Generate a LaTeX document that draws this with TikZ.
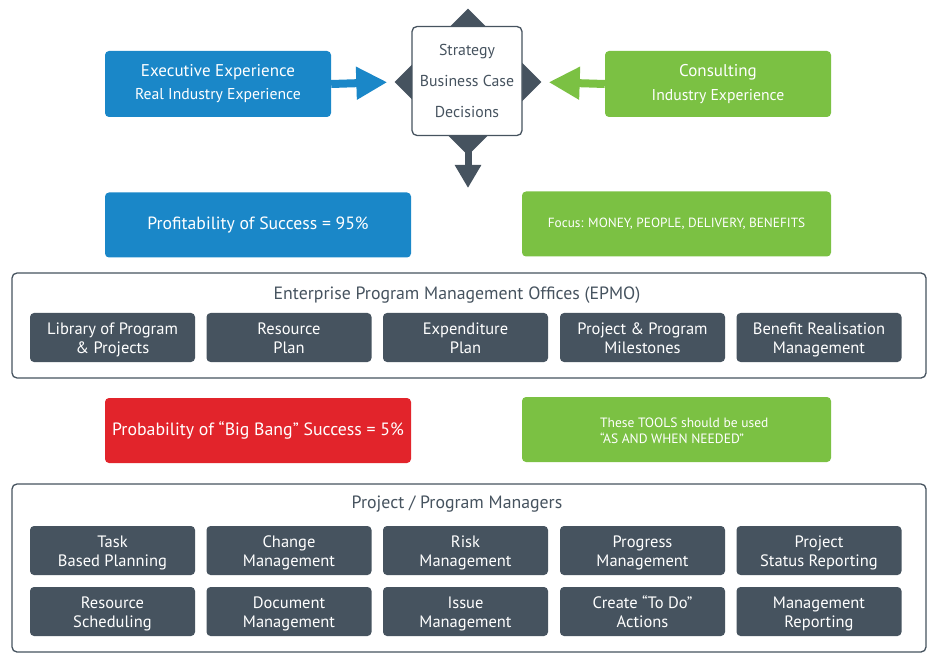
\documentclass[tikz,border=0pt]{standalone}
\usepackage{fontspec}
\setmainfont{PT Sans}
\usetikzlibrary{shapes.geometric,arrows.meta}
\definecolor{cblue}{HTML}{1A87C8}
\definecolor{cgreen}{HTML}{7BC143}
\definecolor{cdark}{HTML}{46535F}
\definecolor{cred}{HTML}{E2242B}
\tikzset{
  cbox/.style={rounded corners=4pt, inner sep=0pt, align=center, text=white},
  tool/.style={cbox, fill=cdark, minimum width=165pt, minimum height=49pt,
    font=\fontsize{16.5}{19.5}\selectfont, text height=36pt, text depth=4pt},
  frame/.style={draw=cdark, line width=1.3pt, rounded corners=5pt, fill=white},
  fat/.style={line width=8pt, -{Triangle[length=31pt,width=31pt]}},
}
\begin{document}
\begin{tikzpicture}[x=1pt,y=-1pt]
\useasboundingbox (0,0) rectangle (937,660);
% top row
\node[cbox, fill=cblue, minimum width=226pt, minimum height=66pt] (exec) at (218,84)
  {\fontsize{17}{20}\selectfont Executive Experience\\[7.5pt] \fontsize{15.7}{19}\selectfont Real Industry Experience};
\node[cbox, fill=cgreen, minimum width=226pt, minimum height=66pt] (cons) at (718,84)
  {\fontsize{17}{20}\selectfont Consulting\\[7.5pt] \fontsize{15.7}{19}\selectfont Industry Experience};
\node[diamond, fill=cdark, minimum width=147pt, minimum height=147pt, inner sep=0pt] (dia) at (468,82) {};
\coordinate (downtip) at (468,188);
\draw[cdark, line width=7pt, -{Triangle[length=23pt,width=25pt]}] (dia.center) -- (downtip);
\node[frame, minimum width=110pt, minimum height=109pt, inner sep=0pt, align=center,
  text=cdark, font=\fontsize{15.8}{31}\selectfont] (strat) at (467,81)
  {Strategy\\Business Case\\Decisions};
\draw[cblue, fat, shorten >=7pt] (exec.east) -- (dia.west);
\draw[cgreen, fat, shorten >=7pt] (cons.west) -- (dia.east);
% second row
\node[cbox, fill=cblue, minimum width=306pt, minimum height=65pt,
  font=\fontsize{17.7}{21}\selectfont] (prof) at (258,225) {Profitability of Success = 95\%};
\node[cbox, fill=cgreen, minimum width=309pt, minimum height=65pt,
  font=\fontsize{13.3}{16}\selectfont] (focus) at (676.5,224) {Focus: MONEY, PEOPLE, DELIVERY, BENEFITS};
% EPMO
\node[frame, minimum width=914pt, minimum height=105pt, inner sep=0pt] (epmo) at (469,325.5) {};
\node[text=cdark, font=\fontsize{17.8}{21}\selectfont] (epmot) at (457,295) {Enterprise Program Management Offices (EPMO)};
\node[tool] (e1) at (112.5,337.5) {Library of Program\\\& Projects};
\node[tool] (e2) at (289,337.5) {Resource\\Plan};
\node[tool] (e3) at (465.5,337.5) {Expenditure\\Plan};
\node[tool] (e4) at (642.5,337.5) {Project \& Program\\Milestones};
\node[tool] (e5) at (819,337.5) {Benefit Realisation\\Management};
% third row
\node[cbox, fill=cred, minimum width=306pt, minimum height=65pt,
  font=\fontsize{17.8}{21}\selectfont] (bang) at (258,430.5) {Probability of “Big Bang” Success = 5\%};
\node[cbox, fill=cgreen, minimum width=309pt, minimum height=65pt] (tools) at (676.5,429.5) {};
\node[anchor=west, align=left, inner sep=0pt, text=white,
  font=\fontsize{13.5}{16}\selectfont] (toolstxt) at (600,431) {These TOOLS should be used\\“AS AND WHEN NEEDED”};
% PM
\node[frame, minimum width=914pt, minimum height=168pt, inner sep=0pt] (pm) at (469,568) {};
\node[text=cdark, font=\fontsize{17.8}{21}\selectfont] (pmt) at (457,504) {Project / Program Managers};
\node[tool] (p1) at (112.5,550.5) {Task\\Based Planning};
\node[tool] (p2) at (289,550.5) {Change\\Management};
\node[tool] (p3) at (465.5,550.5) {Risk\\Management};
\node[tool] (p4) at (642.5,550.5) {Progress\\Management};
\node[tool] (p5) at (819,550.5) {Project\\Status Reporting};
\node[tool] (q1) at (112.5,611.5) {Resource\\Scheduling};
\node[tool] (q2) at (289,611.5) {Document\\Management};
\node[tool] (q3) at (465.5,611.5) {Issue\\Management};
\node[tool] (q4) at (642.5,611.5) {Create “To Do”\\Actions};
\node[tool] (q5) at (819,611.5) {Management\\Reporting};
\end{tikzpicture}
\end{document}
